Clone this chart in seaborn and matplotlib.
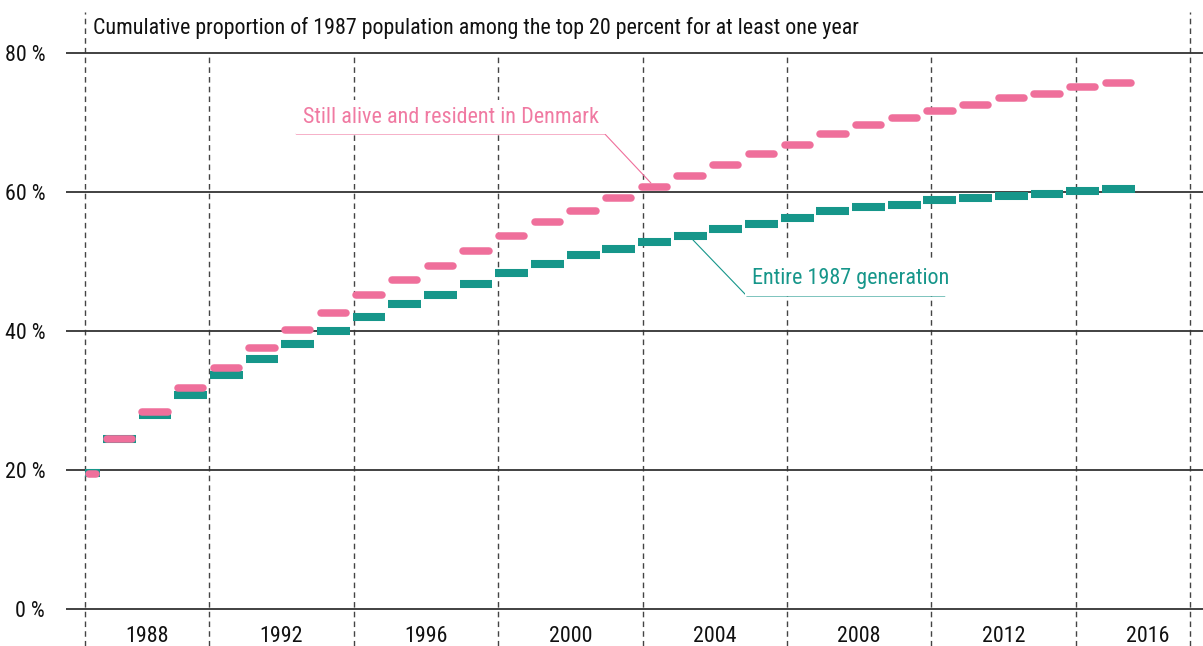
import matplotlib
matplotlib.use("Agg")
import matplotlib.pyplot as plt
from matplotlib import font_manager
from matplotlib.font_manager import FontProperties
import seaborn as sns

# Data (percent of the 1987 population)
years = [1987, 1988, 1989, 1990, 1991, 1992, 1993, 1994, 1995, 1996,
         1997, 1998, 1999, 2000, 2001, 2002, 2003, 2004, 2005, 2006,
         2007, 2008, 2009, 2010, 2011, 2012, 2013, 2014, 2015, 2016]
entire_generation = [19.5, 24.5, 27.9, 30.8, 33.7, 36.0, 38.1, 40.0, 42.0, 43.9,
                     45.2, 46.8, 48.3, 49.6, 50.9, 51.8, 52.8, 53.7, 54.7, 55.4,
                     56.3, 57.3, 57.8, 58.1, 58.9, 59.1, 59.4, 59.7, 60.1, 60.4]
still_alive = [19.4, 24.5, 28.3, 31.8, 34.7, 37.6, 40.1, 42.6, 45.2, 47.4,
               49.4, 51.5, 53.7, 55.7, 57.3, 59.1, 60.7, 62.3, 63.9, 65.5,
               66.8, 68.4, 69.6, 70.7, 71.6, 72.5, 73.5, 74.1, 75.1, 75.7]

grid_years = [1990, 1994, 1998, 2002, 2006, 2010, 2014]
tick_years = [1988, 1992, 1996, 2000, 2004, 2008, 2012, 2016]
tick_pos = [1988.28, 1992, 1996, 2000, 2004, 2008, 2012, 2016]
y_ticks = [0, 20, 40, 60, 80]
y_labels = ["0 %", "20 %", "40 %", "60 %", "80 %"]

title = "Cumulative proportion of 1987 population among the top 20 percent for at least one year"

PINK = "#ef6f9b"
PINK_TXT = "#f07aa2"
TEAL = "#16968a"

sns.set_theme(style="white")

# look for a narrow / condensed face, otherwise fall back to Roboto
narrow = None
for f in font_manager.fontManager.ttflist:
    st = str(f.stretch)
    cond = ("Narrow" in f.name or "Condensed" in f.name or "condensed" in st)
    if cond and f.style == "normal" and str(f.weight) in ("400", "normal", "regular"):
        narrow = f.fname
        if "Liberation" in f.name or "Roboto" in f.name:
            break
if narrow:
    base_fp = FontProperties(fname=narrow)
else:
    base_fp = FontProperties(family=["Roboto", "DejaVu Sans"])

fig = plt.figure(figsize=(12.03, 6.46), dpi=100)
renderer = fig.canvas.get_renderer()

# pick a size so the title spans about as wide as in the reference
probe = fig.text(0, 0, title, fontproperties=base_fp, fontsize=15)
w = probe.get_window_extent(renderer).width
probe.remove()
FS = min(16.0, 15.0 * 767 / w)


def fp(size):
    p = base_fp.copy()
    p.set_size(size)
    return p


ax = fig.add_axes([66 / 1203, 0, 1137 / 1203, 634 / 646])
y_lo, y_hi = -5.32, 85.9
ax.set_ylim(y_lo, y_hi)
ax.set_xlim(1986.034, 2017.52)
for s in ax.spines.values():
    s.set_visible(False)

# horizontal grid
for v in y_ticks:
    ax.axhline(v, color="#333333", lw=1.3, zorder=1)

# dashed vertical separators (calendar scale)
dash = dict(color="#444444", lw=1, linestyle=(0, (4, 3)), zorder=0)
ax.vlines(grid_years, y_lo, 80, **dash)
ax.axvline(1986.56, **dash)
ax.axvline(2017.16, **dash)

ax.set_xticks([])
ax.set_yticks(y_ticks, y_labels)
ax.tick_params(axis="y", length=0, pad=15, labelcolor="#111111")
for lab in ax.get_yticklabels():
    lab.set_fontproperties(fp(FS))
for t, lab in zip(tick_pos, tick_years):
    ax.text(t, -4.75, str(lab), ha="center", va="baseline", fontproperties=fp(FS), color="#111111")

ax.text(1986.78, 82.7, title, ha="left", va="baseline", fontproperties=fp(FS), color="#111111")

# segments on a band-like scale
ax2 = ax.twiny()
ax2.set_xlim(1986.507, 2018.374)
ax2.set_ylim(y_lo, y_hi)
ax2.set_xticks([])
for s in ax2.spines.values():
    s.set_visible(False)

start = 1987.04
half = 0.46
x0 = [max(y - half, start) for y in years]
x1 = [y + half for y in years]
ax2.hlines(entire_generation, x0, x1, color=TEAL, lw=5.8, capstyle="butt", zorder=3)
r = 0.105
ax2.hlines(still_alive, [a + r for a in x0], [b - r for b in x1], color=PINK, lw=5.4,
           capstyle="round", zorder=4)

# annotations
AFS = FS * 1.01
ax2.plot([1992.96, 2001.61, 2002.90], [68.35, 68.35, 61.3], color=PINK, lw=0.8, zorder=2)
ax2.text(1993.15, 70.0, "Still alive and resident in Denmark", color=PINK_TXT,
         fontproperties=fp(AFS), va="baseline", ha="left", zorder=2,
         bbox=dict(boxstyle="square,pad=0.3", fc="white", ec="none"))
ax2.plot([2011.14, 2005.59, 2004.08], [45.04, 45.04, 53.1], color=TEAL, lw=0.8, zorder=2)
ax2.text(2005.72, 46.76, "Entire 1987 generation", color=TEAL,
         fontproperties=fp(AFS), va="baseline", ha="left", zorder=2,
         bbox=dict(boxstyle="square,pad=0.3", fc="white", ec="none"))

fig.savefig("out.png", dpi=100)
